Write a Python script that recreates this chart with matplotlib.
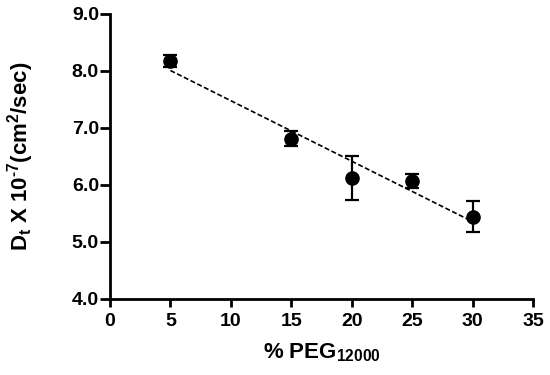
import matplotlib
matplotlib.use("Agg")
import matplotlib.pyplot as plt
import numpy as np

peg = [5, 15, 20, 25, 30]
dt = [8.17, 6.81, 6.12, 6.07, 5.44]
err = [0.10, 0.13, 0.39, 0.12, 0.27]
xticks = [0, 5, 10, 15, 20, 25, 30, 35]
yticks = [4.0, 5.0, 6.0, 7.0, 8.0, 9.0]

plt.rcParams['font.family'] = ['Liberation Sans', 'DejaVu Sans']
plt.rcParams['font.weight'] = 'bold'
plt.rcParams['mathtext.fontset'] = 'custom'
plt.rcParams['mathtext.rm'] = 'Liberation Sans:bold'
plt.rcParams['mathtext.bf'] = 'Liberation Sans:bold'
plt.rcParams['mathtext.default'] = 'bf'

fig = plt.figure(figsize=(5.5, 3.75), dpi=100)
ax = fig.add_axes([0.2, 0.203, 0.769, 0.76])

ax.errorbar(peg, dt, yerr=err, fmt='o', color='black', markersize=9.5,
            capsize=5, elinewidth=1.6, capthick=1.6, zorder=3)
m, b = np.polyfit(peg, dt, 1)
xs = np.array([peg[0], peg[-1]])
ax.plot(xs, m * xs + b, linestyle='--', color='black', linewidth=1.2, dashes=(3, 1.5))

ax.set_xlim(0, 35)
ax.set_ylim(4.0, 9.0)
ax.set_xticks(xticks)
ax.set_yticks(yticks)
ax.set_yticklabels([f"{v:.1f}" for v in yticks])
for s in ['top', 'right']:
    ax.spines[s].set_visible(False)
for s in ['left', 'bottom']:
    ax.spines[s].set_linewidth(2)
ax.tick_params(axis='y', width=2, length=7, labelsize=14, direction='out', pad=1)
ax.tick_params(axis='x', width=2, length=6, labelsize=14, direction='out', pad=4)
for lbl in ax.get_xticklabels() + ax.get_yticklabels():
    lbl.set_fontweight('bold')

ax.set_xlabel('% PEG$_{12000}$', fontsize=16, fontweight='bold')
ax.set_ylabel('D$_t$ X 10$^{\u2010 7}$(cm$^2$/sec)', fontsize=16, fontweight='bold')
ax.xaxis.set_label_coords(0.5, -0.15)
ax.yaxis.set_label_coords(-0.175, 0.5)

fig.savefig('out.png', dpi=100)
